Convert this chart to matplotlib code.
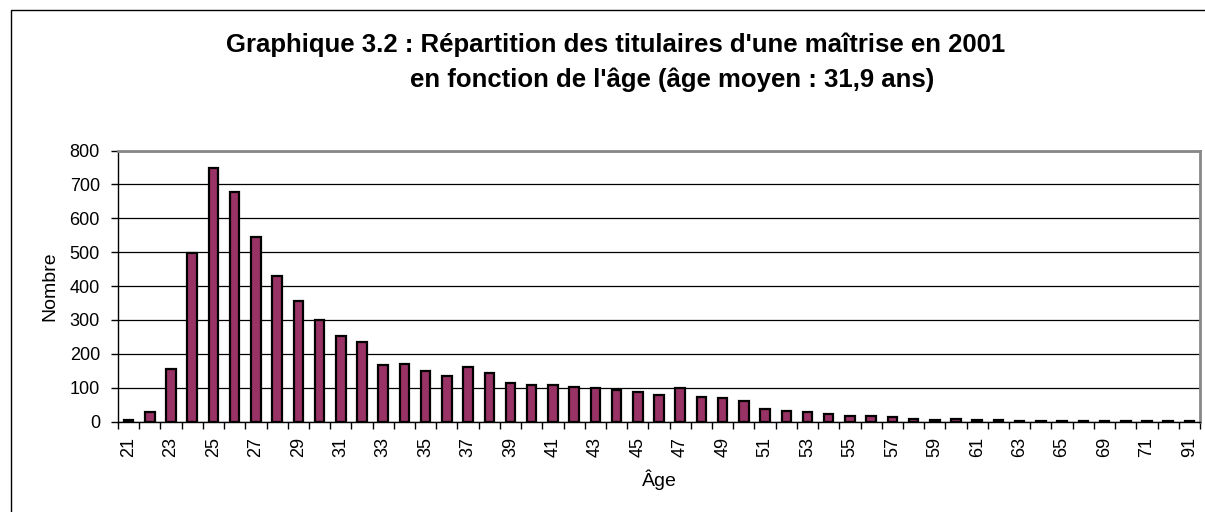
import matplotlib
matplotlib.use("Agg")
import matplotlib.pyplot as plt
from matplotlib.patches import Rectangle

plt.rcParams['font.family'] = ['Liberation Sans', 'DejaVu Sans']

ages = list(range(21, 66)) + [67, 69, 70, 71, 72, 91]
counts = [5, 30, 154, 497, 747, 679, 544, 429, 357, 301,
          252, 236, 168, 169, 149, 136, 161, 143, 114, 107,
          107, 101, 98, 93, 87, 79, 98, 72, 70, 60,
          38, 33, 30, 22, 17, 17, 14, 8, 6, 7,
          5, 4, 2, 2, 3, 2, 2, 2, 2, 1, 1]
yticks = [0, 100, 200, 300, 400, 500, 600, 700, 800]
title = "Graphique 3.2 : Répartition des titulaires d'une maîtrise en 2001"
title2 = "en fonction de l'âge (âge moyen : 31,9 ans)"

W, H = 1205, 512
fig = plt.figure(figsize=(W / 100, H / 100), dpi=100)

# outer chart border
fig.patches.append(Rectangle((11 / W, -0.1), 1.2, (H - 10) / H + 0.1,
                             transform=fig.transFigure, fill=False,
                             edgecolor='black', linewidth=1.0))

ax = fig.add_axes([118 / W, 1 - 421.7 / H, (1200 - 118) / W, (421.7 - 150.5) / H])
x = list(range(len(ages)))
ax.bar(x, counts, width=0.45, color='#993366', edgecolor='black', linewidth=1.6, zorder=3)

ax.set_xlim(-0.5, len(ages) - 0.5)
ax.set_ylim(0, 800)
ax.set_yticks(yticks)
ax.set_yticklabels([str(v) for v in yticks], fontsize=13)
ax.yaxis.grid(True, color='black', linewidth=0.9, zorder=0)
ax.set_axisbelow(True)

ax.set_xticks(x[::2])
ax.set_xticklabels([str(a) for a in ages[::2]], rotation=90, fontsize=13)
ax.set_xticks([i - 0.5 for i in range(len(ages) + 1)], minor=True)
ax.tick_params(axis='x', which='major', length=0, pad=11)
ax.tick_params(axis='x', which='minor', length=5, width=1, direction='out')
ax.tick_params(axis='y', length=5, width=1, direction='out', pad=8)

for s in ['top', 'right']:
    ax.spines[s].set_color('#888888')
    ax.spines[s].set_linewidth(2)
for s in ['left', 'bottom']:
    ax.spines[s].set_color('black')
    ax.spines[s].set_linewidth(1)

ax.set_ylabel('Nombre', fontsize=14, labelpad=8)
ax.set_xlabel('Âge', fontsize=14, labelpad=9)

fig.text(616 / W, 1 - 45 / H, title, ha='center', va='center', fontsize=18.5, fontweight='bold')
fig.text(672 / W, 1 - 80 / H, title2, ha='center', va='center', fontsize=18.5, fontweight='bold')

fig.savefig('out.png', dpi=100)
